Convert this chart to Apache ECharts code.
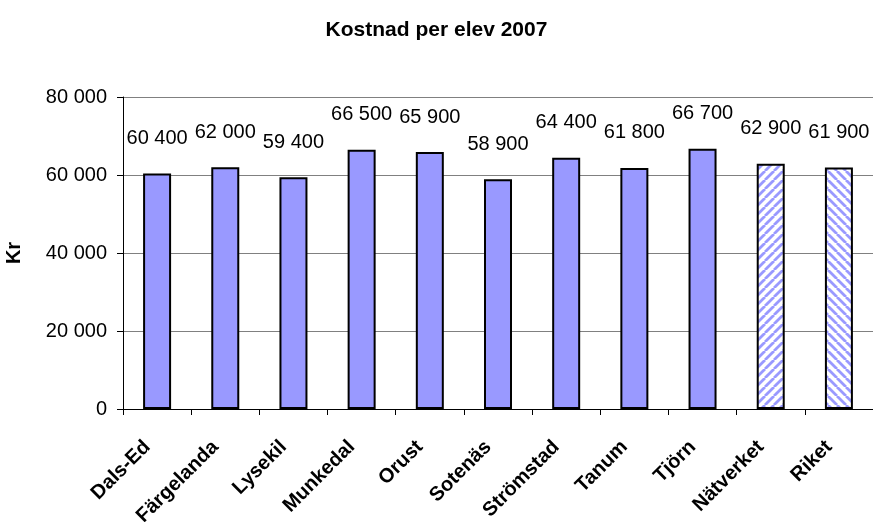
<!DOCTYPE html>
<html>
<head>
<meta charset="utf-8">
<script src="https://cdn.jsdelivr.net/npm/echarts@6/dist/echarts.min.js"></script>
<style>
  html, body { margin: 0; padding: 0; background: #fff; }
  #chart { width: 873px; height: 522px; }
</style>
</head>
<body>
<div id="chart"></div>
<script>
var categories = ['Dals-Ed', 'Färgelanda', 'Lysekil', 'Munkedal', 'Orust', 'Sotenäs',
                  'Strömstad', 'Tanum', 'Tjörn', 'Nätverket', 'Riket'];
var kostnad = [60400, 62000, 59400, 66500, 65900, 58900, 64400, 61800, 66700, 62900, 61900];
var yTicks = [0, 20000, 40000, 60000, 80000];

var FONT = 'Liberation Sans, Arial, sans-serif';

// randigt mönster för Nätverket (/) och Riket (\)
function stripes(dir) {
  var s = 9;
  var c = document.createElement('canvas');
  c.width = s; c.height = s;
  var ctx = c.getContext('2d');
  ctx.fillStyle = '#ffffff';
  ctx.fillRect(0, 0, s, s);
  ctx.strokeStyle = '#9999ff';
  ctx.lineWidth = 2.8;
  ctx.beginPath();
  for (var k = -s; k <= 2 * s; k += s) {
    if (dir > 0) { ctx.moveTo(k, s); ctx.lineTo(k + s, 0); }
    else { ctx.moveTo(k, 0); ctx.lineTo(k + s, s); }
  }
  ctx.stroke();
  return c;
}

function fmt(v) {
  return String(v).replace(/\B(?=(\d{3})+(?!\d))/g, ' ');
}

var barData = kostnad.map(function (v, i) {
  var item = { value: v };
  if (categories[i] === 'Nätverket') item.itemStyle = { color: { image: stripes(1), repeat: 'repeat' } };
  if (categories[i] === 'Riket') item.itemStyle = { color: { image: stripes(-1), repeat: 'repeat' } };
  return item;
});

var chart = echarts.init(document.getElementById('chart'));
chart.setOption({
  animation: false,
  textStyle: { fontFamily: FONT },
  title: {
    text: 'Kostnad per elev 2007',
    left: 'center',
    top: 15,
    textStyle: { fontSize: 21, fontWeight: 'bold', color: '#000', fontFamily: FONT }
  },
  grid: { left: 123, right: 0, top: 97, bottom: 113, outerBoundsMode: 'none', containLabel: false },
  xAxis: {
    type: 'category',
    data: categories,
    axisLine: { lineStyle: { color: '#000', width: 1 } },
    axisTick: { show: true, length: 6, lineStyle: { color: '#000' } },
    axisLabel: {
      rotate: 45,
      interval: 0,
      margin: 25,
      padding: [0, 14, 0, 0],
      color: '#000',
      fontSize: 20,
      fontWeight: 'bold',
      fontFamily: FONT
    }
  },
  yAxis: {
    type: 'value',
    min: yTicks[0],
    max: yTicks[yTicks.length - 1],
    interval: 20000,
    name: 'Kr',
    nameLocation: 'middle',
    nameGap: 99,
    nameTextStyle: { fontSize: 20, fontWeight: 'bold', color: '#000', fontFamily: FONT },
    axisLine: { show: true, lineStyle: { color: '#000', width: 1 } },
    axisTick: { show: true, length: 6, lineStyle: { color: '#000' } },
    axisLabel: {
      color: '#000',
      fontSize: 20,
      margin: 16,
      formatter: function (v) { return fmt(v); }
    },
    splitLine: { show: true, lineStyle: { color: '#808080', width: 1 } }
  },
  series: [{
    type: 'bar',
    data: barData,
    barWidth: 28,
    itemStyle: { color: '#9999ff', borderColor: '#000', borderWidth: 2 },
    label: {
      show: true,
      position: 'top',
      distance: 25,
      color: '#000',
      fontSize: 20,
      fontFamily: FONT,
      formatter: function (p) { return fmt(p.value); }
    }
  }]
});
</script>
</body>
</html>
